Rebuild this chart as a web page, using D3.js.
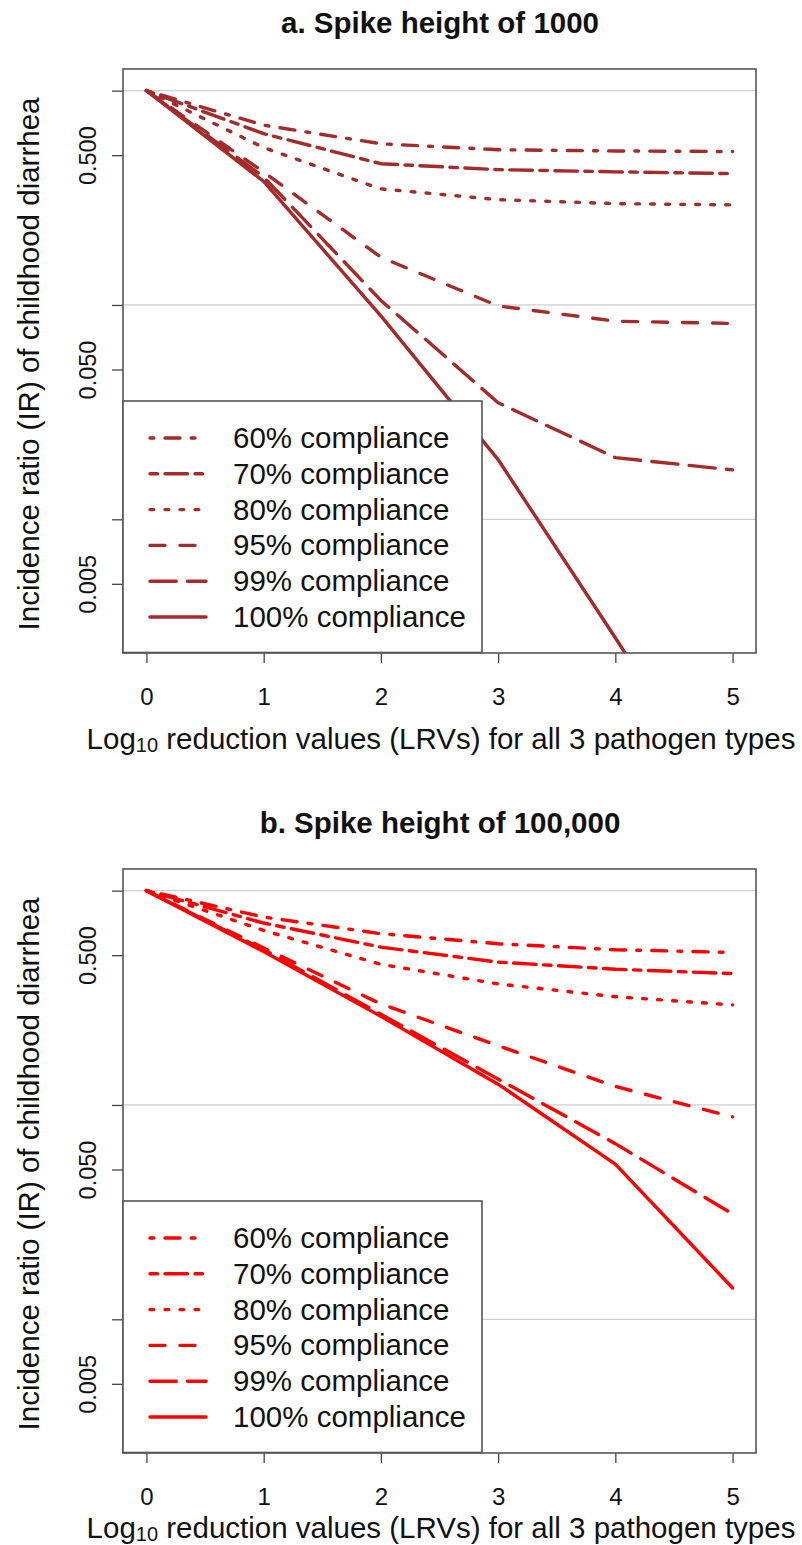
<!DOCTYPE html>
<html>
<head>
<meta charset="utf-8">
<script src="https://cdn.jsdelivr.net/npm/d3@7"></script>
<style>
  body { margin: 0; background: #fff; }
  svg { display: block; }
  text { font-family: "Liberation Sans", Arial, Helvetica, sans-serif; fill: #111; }
</style>
</head>
<body>
<svg id="chart" width="802" height="1545"></svg>
<script>
// Log10 reduction values on the x axis
const lrv = [0, 1, 2, 3, 4, 5];

const complianceLabels = [
  "60% compliance", "70% compliance", "80% compliance",
  "95% compliance", "99% compliance", "100% compliance"
];

// Incidence ratio, spike height 1000
const spike1000_c60  = [1, 0.69,  0.565, 0.53,   0.523,  0.52];
const spike1000_c70  = [1, 0.63,  0.456, 0.428,  0.418,  0.41];
const spike1000_c80  = [1, 0.542, 0.348, 0.31,   0.297,  0.293];
const spike1000_c95  = [1, 0.417, 0.167, 0.099,  0.084,  0.082];
const spike1000_c99  = [1, 0.395, 0.105, 0.035,  0.0194, 0.017];
const spike1000_c100 = [1, 0.377, 0.089, 0.019,  0.0028, 0.0004];

// Incidence ratio, spike height 100,000
const spike100k_c60  = [1, 0.753, 0.63,  0.565, 0.53,  0.515];
const spike100k_c70  = [1, 0.706, 0.545, 0.464, 0.43,  0.41];
const spike100k_c80  = [1, 0.652, 0.453, 0.367, 0.32,  0.293];
const spike100k_c95  = [1, 0.54,  0.296, 0.189, 0.122, 0.088];
const spike100k_c99  = [1, 0.53,  0.265, 0.132, 0.066, 0.031];
const spike100k_c100 = [1, 0.52,  0.259, 0.125, 0.053, 0.014];

const xTickValues = [0, 1, 2, 3, 4, 5];
const yTickValues = [1, 0.5, 0.1, 0.05, 0.01, 0.005];
const yTickLabels = ["", "0.500", "", "0.050", "", "0.005"];
const gridValues  = [1, 0.1, 0.01];
const xLimits = [0, 5];
const yLimits = [0.003, 1];

// R-style line types: dotdash, twodash, dotted, dashed, longdash, solid
const dashUnit = 3.75;
const lineTypes = [[1, 3, 4, 3], [2, 2, 6, 2], [1, 3], [4, 4], [7, 3], null];

const panels = [
  { title: "a. Spike height of 1000", color: "#a52a2a", top: 0, xTitleBase: 749,
    series: [spike1000_c60, spike1000_c70, spike1000_c80, spike1000_c95, spike1000_c99, spike1000_c100] },
  { title: "b. Spike height of 100,000", color: "#ff0000", top: 800, xTitleBase: 738,
    series: [spike100k_c60, spike100k_c70, spike100k_c80, spike100k_c95, spike100k_c99, spike100k_c100] }
];

const svg = d3.select("#chart");
const box = { left: 123, right: 756, top: 69, bottom: 653 };

// extend a range by 4% on each side, as base R does
function pad4(lo, hi) { const r = hi - lo; return [lo - 0.04 * r, hi + 0.04 * r]; }

const xd = pad4(xLimits[0], xLimits[1]);
const x = d3.scaleLinear().domain(xd).range([box.left, box.right]);
const yl = pad4(Math.log10(yLimits[0]), Math.log10(yLimits[1]));
const y = d3.scaleLog().domain([Math.pow(10, yl[0]), Math.pow(10, yl[1])]).range([box.bottom, box.top]);

const dash = i => lineTypes[i] ? lineTypes[i].map(v => v * dashUnit).join(",") : null;

panels.forEach((p, pi) => {
  const g = svg.append("g").attr("transform", `translate(0,${p.top})`);
  const clipId = "plotclip" + pi;
  g.append("clipPath").attr("id", clipId)
    .append("rect")
    .attr("x", box.left).attr("y", box.top)
    .attr("width", box.right - box.left).attr("height", box.bottom - box.top);

  // horizontal reference lines
  g.append("g").selectAll("line").data(gridValues).join("line")
    .attr("x1", box.left).attr("x2", box.right)
    .attr("y1", d => y(d)).attr("y2", d => y(d))
    .attr("stroke", "#cfcfcf").attr("stroke-width", 1.2);

  // series lines
  const line = d3.line().x((d, i) => x(lrv[i])).y(d => y(d));
  g.append("g").attr("clip-path", `url(#${clipId})`)
    .selectAll("path").data(p.series).join("path")
    .attr("d", d => line(d))
    .attr("fill", "none")
    .attr("stroke", p.color)
    .attr("stroke-width", 3.4)
    .attr("stroke-linecap", "round")
    .attr("stroke-linejoin", "round")
    .attr("stroke-dasharray", (d, i) => dash(i));

  // y axis
  const yAxis = g.append("g").attr("transform", `translate(${box.left},0)`)
    .call(d3.axisLeft(y).tickValues(yTickValues).tickSize(11)
      .tickFormat((d, i) => yTickLabels[i]));
  yAxis.select(".domain").remove();
  yAxis.selectAll(".tick line").attr("stroke", "#444").attr("stroke-width", 1.3);
  yAxis.selectAll(".tick text")
    .attr("transform", "rotate(-90)")
    .attr("x", 0).attr("y", -27).attr("dy", null)
    .attr("text-anchor", "middle")
    .attr("font-size", 23.5).attr("fill", "#111");

  // x axis
  const xAxis = g.append("g").attr("transform", `translate(0,${box.bottom})`)
    .call(d3.axisBottom(x).tickValues(xTickValues).tickSize(10).tickFormat(d3.format("d")));
  xAxis.select(".domain").remove();
  xAxis.selectAll(".tick line").attr("stroke", "#444").attr("stroke-width", 1.3);
  xAxis.selectAll(".tick text")
    .attr("y", 52).attr("dy", null)
    .attr("font-size", 24).attr("fill", "#111");

  // plot frame
  g.append("rect")
    .attr("x", box.left).attr("y", box.top)
    .attr("width", box.right - box.left).attr("height", box.bottom - box.top)
    .attr("fill", "none").attr("stroke", "#555").attr("stroke-width", 1.6);

  // title
  g.append("text").attr("x", 440).attr("y", 33)
    .attr("text-anchor", "middle").attr("font-size", 29.5).attr("font-weight", "bold")
    .text(p.title);

  // y axis title
  g.append("text")
    .attr("transform", `translate(39,${(box.top + box.bottom) / 2 + 3}) rotate(-90)`)
    .attr("text-anchor", "middle").attr("font-size", 29.5)
    .text("Incidence ratio (IR) of childhood diarrhea");

  // x axis title with subscript
  const xt = g.append("text").attr("x", 441).attr("y", p.xTitleBase)
    .attr("text-anchor", "middle").attr("font-size", 29.5);
  xt.append("tspan").text("Log");
  xt.append("tspan").attr("font-size", 20).attr("dy", 3).text("10");
  xt.append("tspan").attr("dy", -3).text(" reduction values (LRVs) for all 3 pathogen types");

  // legend
  const lg = { x: box.left, y: 401, w: 359, h: 251.5, rowY0: 438, rowStep: 35.8 };
  const leg = g.append("g");
  leg.append("rect").attr("x", lg.x).attr("y", lg.y).attr("width", lg.w).attr("height", lg.h)
    .attr("fill", "#fff").attr("stroke", "#555").attr("stroke-width", 1.6);
  const rows = leg.selectAll("g.row").data(complianceLabels).join("g").attr("class", "row")
    .attr("transform", (d, i) => `translate(0,${lg.rowY0 + i * lg.rowStep})`);
  rows.append("line")
    .attr("x1", 150).attr("x2", 206).attr("y1", 0).attr("y2", 0)
    .attr("stroke", p.color).attr("stroke-width", 3.4).attr("stroke-linecap", "round")
    .attr("stroke-dasharray", (d, i) => dash(i));
  rows.append("text").attr("x", 233).attr("y", 10)
    .attr("font-size", 29.5).text(d => d);
});
</script>
</body>
</html>
